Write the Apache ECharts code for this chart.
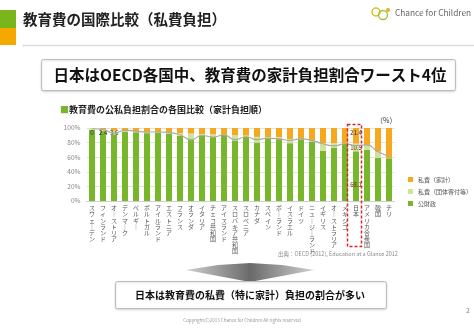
<!DOCTYPE html>
<html><head><meta charset="utf-8">
<script src="https://cdn.jsdelivr.net/npm/echarts@6/dist/echarts.min.js"></script>
<style>html,body{margin:0;padding:0;background:#fff}#c{width:474px;height:329px}</style>
</head><body><div id="c"></div>
<script>
const categories = ['スウェーデン','フィンランド','オーストリア','デンマーク','ベルギー','ポルトガル','アイルランド','エストニア','フランス','オランダ','イタリア','チェコ共和国','アイスランド','スロバキア共和国','スロベニア','カナダ','スペイン','ポーランド','イスラエル','ドイツ','ニュージーランド','イギリス','オーストラリア','メキシコ','日本','アメリカ合衆国','韓国','チリ'];
const publicShare = [97.6,95.8,90.8,95.0,94.2,93.0,93.6,92.6,89.5,83.5,90.0,87.6,90.6,83.0,87.8,80.0,85.8,84.8,79.2,84.5,81.6,68.9,72.6,78.6,68.1,70.0,59.2,58.6];
const otherPrivate = [2.4,1.8,5.6,0.6,0.8,1.5,0.4,0.9,3.5,9.0,1.6,3.8,0.2,7.2,1.8,7.9,1.8,2.5,5.8,0.3,1.4,10.6,6.7,0.3,10.5,6.8,8.6,0.4];
const household = [0,2.4,3.6,4.4,5.0,5.5,6.0,6.5,7.0,7.5,8.4,8.6,9.2,9.8,10.4,12.1,12.4,12.7,15.0,15.2,17.0,20.5,20.7,21.1,21.4,23.2,32.2,41.0];
const grayLine = [99,98,93,97,95.6,94.5,94.5,94,90.8,84,89.7,87.6,90.6,84,88,84,86,85,83,85,83,78.4,75.5,78.4,76,77,67.5,61.5];
const topLabels = ['0','2.4','3.6'];
const yTicks = [0,20,40,60,80,100];
const seriesNames = ['公財政','私費（団体寄付等）','私費（家計）'];
const highlight = '日本';

const FONT = '"Noto Sans CJK JP", "Noto Sans", sans-serif';
const GREEN = '#78b62b', LGREEN = '#cde59b', ORANGE = '#f6a91f';
const jIdx = categories.indexOf(highlight);

const chart = echarts.init(document.getElementById('c'), null, {renderer:'canvas'});
const vert = s => s.split('').map(ch => ch === 'ー' ? '｜' : ch).join('\n');

chart.setOption({
  animation:false,
  textStyle:{fontFamily:FONT},
  grid:{left:86.5, right:79.5, top:128, bottom:128, containLabel:false},
  legend:{
    data:[seriesNames[2], seriesNames[1], seriesNames[0]],
    orient:'vertical', left:403, top:171,
    itemWidth:5, itemHeight:5, itemGap:5, icon:'rect',
    textStyle:{fontSize:6, color:'#555', lineHeight:7, fontFamily:FONT}
  },
  xAxis:{
    type:'category', data:categories,
    axisLine:{lineStyle:{color:'#cfcfcf'}}, axisTick:{show:false},
    axisLabel:{interval:0, margin:4, fontSize:6, lineHeight:6.1, color:'#555',
      formatter:v => vert(v), verticalAlign:'top'}
  },
  yAxis:{
    type:'value', min:yTicks[0], max:yTicks[yTicks.length-1], interval:20,
    axisLine:{show:false}, axisTick:{show:false},
    axisLabel:{fontSize:6.5, color:'#888', margin:6, formatter:'{value}%'},
    splitLine:{lineStyle:{color:'#e2e2e2'}}
  },
  series:[
    {name:seriesNames[0], type:'bar', stack:'a', data:publicShare, barWidth:'55%',
      itemStyle:{color:GREEN},
      label:{show:true, position:'inside', offset:[0,9], fontSize:6, color:'#7a2a10',
        formatter:p => p.dataIndex === jIdx ? p.value.toFixed(1) : ''}},
    {name:seriesNames[1], type:'bar', stack:'a', data:otherPrivate,
      itemStyle:{color:LGREEN},
      label:{show:true, position:'inside', fontSize:6, color:'#7a2a10',
        formatter:p => p.dataIndex === jIdx ? p.value.toFixed(1) : ''}},
    {name:seriesNames[2], type:'bar', stack:'a', data:household,
      itemStyle:{color:ORANGE},
      label:{show:true, position:'insideTop', distance:1, fontSize:6.3, color:'#333',
        formatter:p => p.dataIndex === jIdx ? p.value.toFixed(1) : (p.dataIndex < topLabels.length ? topLabels[p.dataIndex] : '')},
      labelLayout:{hideOverlap:false}},
    {name:'line', type:'line', data:grayLine, smooth:true, symbol:'none', z:5,
      lineStyle:{color:'#a9a9a9', width:1.2}, silent:true}
  ],
  graphic:[
    {type:'rect', shape:{x:0,y:10,width:16,height:18}, style:{fill:'#7ab51d'}},
    {type:'rect', shape:{x:0,y:28,width:16,height:17}, style:{fill:'#f5a800'}},
    {type:'text', x:23, y:19, style:{text:'教育費の国際比較（私費負担）', font:'bold 14.5px '+FONT, fill:'#222', textVerticalAlign:'middle'}},
    {type:'line', shape:{x1:22,y1:45.5,x2:474,y2:45.5}, style:{stroke:'#dcdcdc', lineWidth:1.5}},
    {type:'circle', shape:{cx:376,cy:12,r:4}, style:{fill:'none', stroke:'#d8c21a', lineWidth:1.5}},
    {type:'circle', shape:{cx:383,cy:15,r:4.5}, style:{fill:'none', stroke:'#9cc43a', lineWidth:1.3}},
    {type:'circle', shape:{cx:388,cy:10,r:2}, style:{fill:'#e8b020'}},
    {type:'text', x:395, y:13, style:{text:'Chance for Children', font:'8.3px '+FONT, fill:'#666', textVerticalAlign:'middle'}},
    {type:'rect', shape:{x:41.5,y:59.5,width:414,height:31,r:2}, style:{fill:'#fff', stroke:'#bdbdbd', lineWidth:1, shadowBlur:2, shadowColor:'rgba(0,0,0,0.15)', shadowOffsetY:1}},
    {type:'text', x:250, y:75, style:{text:'日本はOECD各国中、教育費の家計負担割合ワースト4位', font:'bold 15.5px '+FONT, fill:'#111', textAlign:'center', textVerticalAlign:'middle'}},
    {type:'text', x:60, y:110, style:{text:'{a|■}{b|教育費の公私負担割合の各国比較（家計負担順）}', textVerticalAlign:'middle',
      rich:{a:{fill:GREEN, font:'9px '+FONT}, b:{fill:'#222', font:'bold 9px '+FONT}}}},
    {type:'text', x:376, y:120, style:{text:'（%）', font:'7px '+FONT, fill:'#333', textVerticalAlign:'middle'}},
    {type:'rect', z:20, shape:{x:347.5,y:124.5,width:14,height:122}, style:{fill:'none', stroke:'#d7262b', lineWidth:1.5, lineDash:[3,2]}},
    {type:'text', x:278, y:254, style:{text:'出典：OECD (2012), Education at a Glance 2012', font:'5.5px '+FONT, fill:'#8a8a8a', textVerticalAlign:'middle'}},
    {type:'polygon', shape:{points:[[186,270],[218,265],[250,263],[282,265],[314,270],[250,282]]},
      style:{fill:new echarts.graphic.LinearGradient(0,0,1,0,[{offset:0,color:'#d0d0d0'},{offset:0.5,color:'#6a6a6a'},{offset:1,color:'#d0d0d0'}])}},
    {type:'rect', shape:{x:115.5,y:281.5,width:271,height:27,r:2}, style:{fill:'#fff', stroke:'#bdbdbd', lineWidth:1, shadowBlur:2, shadowColor:'rgba(0,0,0,0.15)', shadowOffsetY:1}},
    {type:'text', x:250, y:295, style:{text:'日本は教育費の私費（特に家計）負担の割合が多い', font:'bold 10px '+FONT, fill:'#111', textAlign:'center', textVerticalAlign:'middle'}},
    {type:'text', x:242, y:320, style:{text:'Copyright(C)2013 Chance for Children All rights reserved', font:'4.5px '+FONT, fill:'#999', textAlign:'center', textVerticalAlign:'middle'}},
    {type:'text', x:466, y:310, style:{text:'2', font:'7px '+FONT, fill:'#888', textVerticalAlign:'middle'}}
  ]
});
</script></body></html>
